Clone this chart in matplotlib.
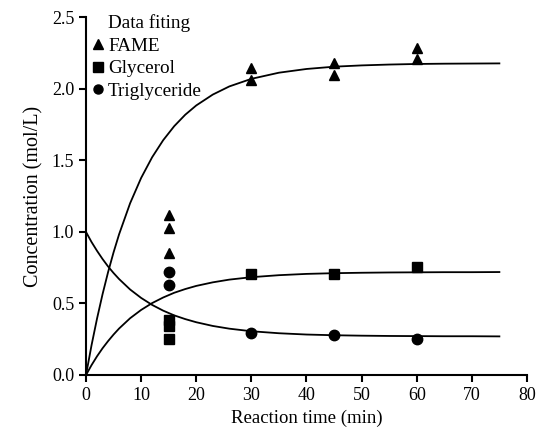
import matplotlib.pyplot as plt
from matplotlib.lines import Line2D
import numpy as np

plt.rcParams['font.family'] = ['Liberation Serif', 'DejaVu Serif']

# measured concentrations (mol/L)
t_fame = [15, 15, 15, 30, 30, 45, 45, 60, 60]
c_fame = [1.12, 1.03, 0.85, 2.15, 2.06, 2.18, 2.10, 2.29, 2.21]

t_gly = [15, 15, 15, 30, 45, 60]
c_gly = [0.385, 0.34, 0.25, 0.706, 0.706, 0.755]

t_tg = [15, 15, 30, 45, 60]
c_tg = [0.72, 0.63, 0.294, 0.28, 0.25]

# fitted model curves
t_fit = [0, 1, 2, 3, 4, 5, 6, 8, 10, 12, 14, 16, 18, 20, 23, 26, 30, 35, 40,
         45, 50, 55, 60, 65, 70, 75]
fit_fame = [0.0, 0.208, 0.395, 0.565, 0.719, 0.858, 0.984, 1.201, 1.378, 1.523,
            1.642, 1.740, 1.820, 1.885, 1.961, 2.018, 2.071, 2.114, 2.140,
            2.156, 2.165, 2.171, 2.175, 2.177, 2.178, 2.179]
fit_gly = [0.0, 0.069, 0.131, 0.187, 0.237, 0.283, 0.325, 0.397, 0.455, 0.503,
           0.542, 0.575, 0.601, 0.623, 0.648, 0.667, 0.684, 0.698, 0.707,
           0.712, 0.715, 0.717, 0.718, 0.719, 0.719, 0.720]
fit_tg = [1.000, 0.930, 0.868, 0.811, 0.759, 0.713, 0.671, 0.598, 0.539, 0.490,
          0.450, 0.417, 0.391, 0.369, 0.343, 0.324, 0.306, 0.292, 0.283,
          0.278, 0.275, 0.273, 0.272, 0.271, 0.271, 0.270]

fig = plt.figure(figsize=(5.41, 4.43), dpi=100)
ax = fig.add_axes([0.159, 0.1535, 0.815, 0.807])

for y in (fit_fame, fit_gly, fit_tg):
    ax.plot(t_fit, y, color='black', lw=1.3, zorder=2)

ax.plot(t_fame, c_fame, '^', color='black', ms=7.5, ls='none', zorder=3)
ax.plot(t_gly, c_gly, 's', color='black', ms=7.5, ls='none', zorder=3)
ax.plot(t_tg, c_tg, 'o', color='black', ms=7.5, ls='none', zorder=3)

ax.set_xlim(0, 80)
ax.set_ylim(0, 2.5)
ax.set_xticks(np.arange(0, 81, 10))
ax.set_yticks(np.arange(0, 2.51, 0.5))
ax.yaxis.set_major_formatter(plt.FormatStrFormatter('%.1f'))

for s in ('top', 'right'):
    ax.spines[s].set_visible(False)
for s in ('left', 'bottom'):
    ax.spines[s].set_linewidth(1.5)
ax.tick_params(direction='out', length=5, width=1.5, labelsize=13)

ax.set_xlabel('Reaction time (min)', fontsize=13.5)
ax.set_ylabel('Concentration (mol/L)', fontsize=14.5, labelpad=6)

# legend header as an entry with an empty handle so its text lines up
header = Line2D([], [], ls='none', marker=None)
handles = [header,
           Line2D([], [], ls='none', marker='^', color='black', ms=6.5),
           Line2D([], [], ls='none', marker='s', color='black', ms=6.5),
           Line2D([], [], ls='none', marker='o', color='black', ms=6.5)]
labels = ['Data fiting', 'FAME', 'Glycerol', 'Triglyceride']
ax.legend(handles, labels, loc='upper left', bbox_to_anchor=(0.0, 1.025),
          frameon=False, fontsize=13.8, handlelength=0.6, handletextpad=0.25,
          labelspacing=0.27, borderaxespad=0.1, borderpad=0.2)

fig.savefig('out.png', dpi=100)
